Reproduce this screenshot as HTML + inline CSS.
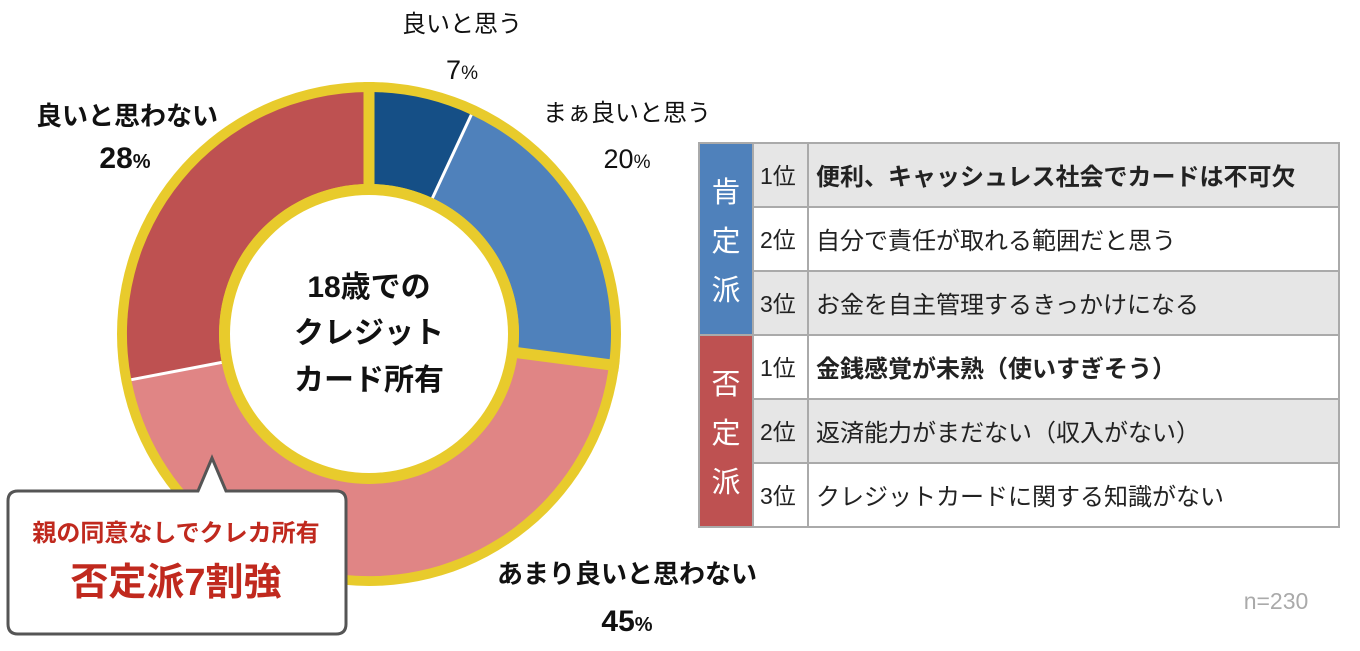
<!DOCTYPE html>
<html><head><meta charset="utf-8"><style>
body{margin:0;width:1360px;height:646px;background:#fff;overflow:hidden;font-family:"Liberation Sans","Noto Sans CJK JP",sans-serif;}
</style></head><body>
<svg width="1360" height="646" viewBox="0 0 1360 646" xmlns="http://www.w3.org/2000/svg" font-family="Liberation Sans, Noto Sans CJK JP, sans-serif">
<circle cx="369" cy="334" r="252" fill="#e8cb2c"/>
<path d="M369,92 A242,242 0 0,1 471.3,114.7 L432.4,198.1 A150,150 0 0,0 369,184 Z" fill="#154f86"/>
<path d="M471.3,114.7 A242,242 0 0,1 609.1,364.3 L517.8,352.8 A150,150 0 0,0 432.4,198.1 Z" fill="#4f81bb"/>
<path d="M609.1,364.3 A242,242 0 0,1 131.3,379.7 L221.8,362.4 A150,150 0 0,0 517.8,352.8 Z" fill="#e08585"/>
<path d="M131.3,379.7 A242,242 0 0,1 369,92 L369,184 A150,150 0 0,0 221.8,362.4 Z" fill="#be5151"/>
<line x1="369" y1="82" x2="369" y2="190" stroke="#e8cb2c" stroke-width="11"/>
<line x1="619" y1="366" x2="512" y2="352" stroke="#e8cb2c" stroke-width="11"/>
<line x1="471.3" y1="114.7" x2="432.4" y2="198.1" stroke="#fff" stroke-width="3"/>
<line x1="131.3" y1="379.7" x2="221.8" y2="362.4" stroke="#fff" stroke-width="3"/>
<circle cx="369" cy="334" r="150" fill="#e8cb2c"/>
<circle cx="369" cy="334" r="139" fill="#fff"/>
<g font-weight="bold" font-size="30" text-anchor="middle" fill="#111">
<text x="369" y="297">18歳での</text>
<text x="369" y="343">クレジット</text>
<text x="369" y="390">カード所有</text>
</g>
<g font-size="24" fill="#111" text-anchor="middle">
<text x="462" y="32">良いと思う</text>
<text x="462" y="79" font-size="27">7<tspan font-size="19">%</tspan></text>
<text x="627" y="121">まぁ良いと思う</text>
<text x="627" y="168" font-size="27">20<tspan font-size="19">%</tspan></text>
</g>
<g font-size="26" font-weight="bold" fill="#111" text-anchor="middle">
<text x="127" y="125">良いと思わない</text>
<text x="125" y="168" font-size="30">28<tspan font-size="20">%</tspan></text>
<text x="627" y="583">あまり良いと思わない</text>
<text x="627" y="631" font-size="30">45<tspan font-size="20">%</tspan></text>
</g>
<path d="M18,491 L198,491 L212,458 L226,491 L336,491 Q346,491 346,501 L346,624 Q346,634 336,634 L18,634 Q8,634 8,624 L8,501 Q8,491 18,491 Z" fill="#fff" stroke="#555" stroke-width="3"/>
<text x="176" y="541" font-size="24" font-weight="bold" fill="#c0291e" text-anchor="middle">親の同意なしでクレカ所有</text>
<text x="176" y="595" font-size="38" font-weight="bold" fill="#c0291e" text-anchor="middle">否定派7割強</text>
<text x="1276" y="609" font-size="23" fill="#aaa" text-anchor="middle">n=230</text>
<rect x="753" y="143" width="586" height="64" fill="#e6e6e6"/>
<rect x="753" y="271" width="586" height="64" fill="#e6e6e6"/>
<rect x="753" y="399" width="586" height="64" fill="#e6e6e6"/>
<rect x="699" y="143" width="54" height="192" fill="#4f81bb"/>
<rect x="699" y="335" width="54" height="192" fill="#be5151"/>
<g stroke="#aaa" stroke-width="2" fill="none">
<rect x="699" y="143" width="640" height="384"/>
<line x1="753" y1="143" x2="753" y2="527"/>
<line x1="808" y1="143" x2="808" y2="527"/>
<line x1="753" y1="207" x2="1339" y2="207"/>
<line x1="753" y1="271" x2="1339" y2="271"/>
<line x1="699" y1="335" x2="1339" y2="335"/>
<line x1="753" y1="399" x2="1339" y2="399"/>
<line x1="753" y1="463" x2="1339" y2="463"/>
</g>
<g font-size="29" fill="#fff" text-anchor="middle">
<text x="726" y="202">肯</text><text x="726" y="251">定</text><text x="726" y="300">派</text>
<text x="726" y="394">否</text><text x="726" y="443">定</text><text x="726" y="492">派</text>
</g>
<g font-size="23" fill="#222">
<text x="760" y="184">1位</text><text x="760" y="248">2位</text><text x="760" y="312">3位</text>
<text x="760" y="376">1位</text><text x="760" y="440">2位</text><text x="760" y="504">3位</text>
</g>
<g font-size="24" fill="#222">
<text x="816" y="185" font-weight="bold">便利、キャッシュレス社会でカードは不可欠</text>
<text x="816" y="249">自分で責任が取れる範囲だと思う</text>
<text x="816" y="313">お金を自主管理するきっかけになる</text>
<text x="816" y="377" font-weight="bold">金銭感覚が未熟（使いすぎそう）</text>
<text x="816" y="441">返済能力がまだない（収入がない）</text>
<text x="816" y="505">クレジットカードに関する知識がない</text>
</g>
</svg>
</body></html>
